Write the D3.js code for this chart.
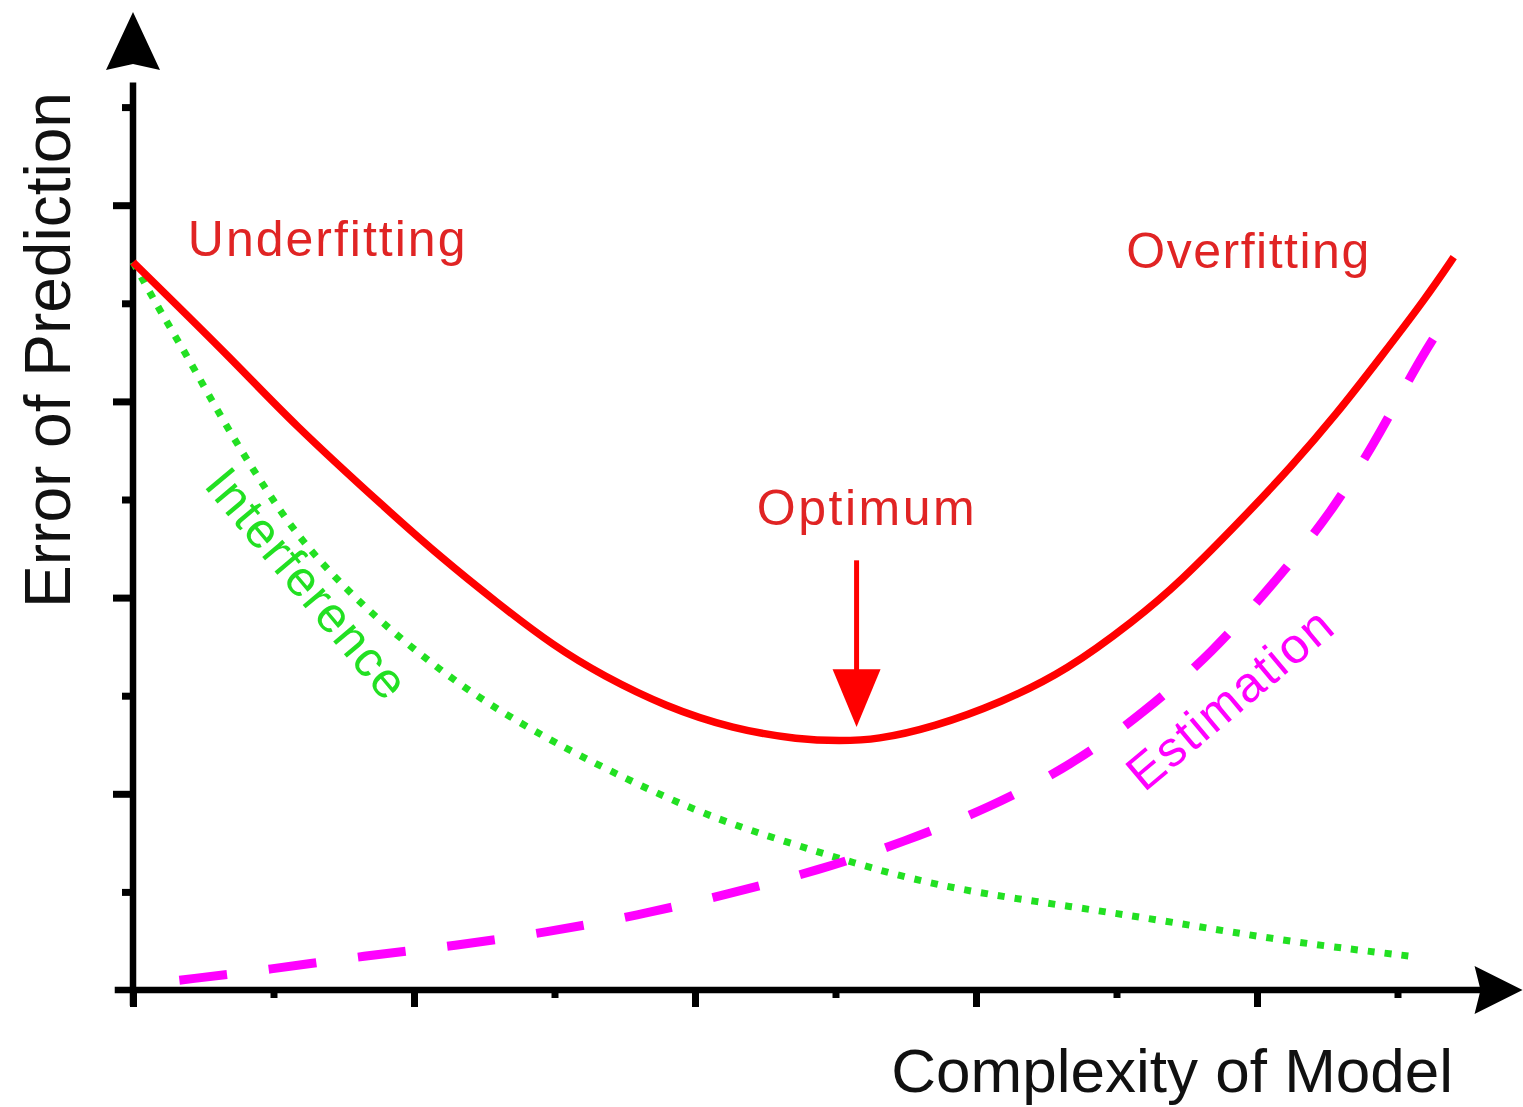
<!DOCTYPE html>
<html>
<head>
<meta charset="utf-8">
<script src="https://cdn.jsdelivr.net/npm/d3@7"></script>
<style>
  body { margin: 0; background: #fff; }
  text { font-family: "Liberation Sans", Arial, sans-serif; }
</style>
</head>
<body>
<div id="wrapper"></div>
<script>
// complexity of model (x) and error values
const totalX = [0, 0.74, 1.12, 1.82, 2.20, 2.58, 3.00, 3.35, 3.79, 4.27, 4.75, 5.03, 5.29, 5.70, 6.18, 6.65, 7.13, 7.44, 7.92, 8.24, 8.56, 8.88, 9.20, 9.40]
const totalY = [7.42, 6.38, 5.80, 4.88, 4.40, 3.96, 3.50, 3.20, 2.89, 2.66, 2.55, 2.54, 2.55, 2.68, 2.93, 3.26, 3.77, 4.14, 4.84, 5.33, 5.86, 6.45, 7.05, 7.47]

const interferenceX = [0, 0.19, 0.37, 0.56, 0.76, 0.97, 1.19, 1.57, 2.01, 2.52, 3.15, 4.02, 4.67, 5.25, 5.86, 6.68, 7.41, 8.23, 9.12]
const interferenceY = [7.42, 6.93, 6.50, 6.01, 5.52, 5.05, 4.59, 4.00, 3.45, 2.91, 2.40, 1.80, 1.50, 1.24, 1.02, 0.85, 0.69, 0.49, 0.34]

const estimationX = [0.33, 0.98, 1.65, 2.29, 2.95, 3.59, 4.22, 4.88, 5.49, 6.10, 6.68, 7.20, 7.69, 8.11, 8.53, 8.88, 9.18, 9.40]
const estimationY = [0.10, 0.21, 0.35, 0.45, 0.59, 0.76, 0.97, 1.22, 1.51, 1.86, 2.29, 2.83, 3.45, 4.13, 4.86, 5.68, 6.49, 6.95]

const majorTicks = [2, 4, 6, 8]
const minorTicks = [1, 3, 5, 7, 9]

const labels = ["Underfitting", "Overfitting", "Optimum", "Interference", "Estimation"]
const axisTitles = ["Complexity of Model", "Error of Prediction"]

const width = 1523
const height = 1107

const svg = d3.select("#wrapper")
  .append("svg")
    .attr("width", width)
    .attr("height", height)

const x = d3.scaleLinear().domain([0, 10]).range([133, 1538])
const y = d3.scaleLinear().domain([0, 10]).range([990, 9])

const red = "#ff0000"
const textRed = "#e02424"
const green = "#22e022"
const magenta = "#ff00ff"

// axes
const axes = svg.append("g")

// y ticks
axes.append("g")
    .attr("transform", `translate(${x(0)},0)`)
    .call(d3.axisLeft(y).tickValues(majorTicks).tickSize(20).tickFormat(""))
    .call(g => g.select(".domain").remove())
axes.append("g")
    .attr("transform", `translate(${x(0)},0)`)
    .call(d3.axisLeft(y).tickValues(minorTicks).tickSize(11).tickFormat(""))
    .call(g => g.select(".domain").remove())
// x ticks
axes.append("g")
    .attr("transform", `translate(0,${y(0)})`)
    .call(d3.axisBottom(x).tickValues([0].concat(majorTicks)).tickSize(17).tickFormat(""))
    .call(g => g.select(".domain").remove())
axes.append("g")
    .attr("transform", `translate(0,${y(0)})`)
    .call(d3.axisBottom(x).tickValues(minorTicks).tickSize(8).tickFormat(""))
    .call(g => g.select(".domain").remove())

axes.selectAll(".tick line")
    .attr("stroke", "#000")
    .attr("stroke-width", 7)

// axis lines
axes.append("line")
    .attr("x1", x(-0.13)).attr("x2", x(9.82))
    .attr("y1", y(0)).attr("y2", y(0))
    .attr("stroke", "#000").attr("stroke-width", 6.5)
axes.append("line")
    .attr("x1", x(0)).attr("x2", x(0))
    .attr("y1", y(-0.16)).attr("y2", y(9.25))
    .attr("stroke", "#000").attr("stroke-width", 6.5)

// arrow heads
const xTip = x(9.89), yTip = y(9.97)
axes.append("path")
    .attr("d", `M${xTip},${y(0)} L${xTip - 48},${y(0) - 24} L${xTip - 42},${y(0)} L${xTip - 48},${y(0) + 24} Z`)
    .attr("fill", "#000")
axes.append("path")
    .attr("d", `M${x(0)},${yTip} L${x(0) - 27},${yTip + 58} L${x(0)},${yTip + 52} L${x(0) + 27},${yTip + 58} Z`)
    .attr("fill", "#000")

// curves
const line = d3.line()
  .x(d => x(d[0]))
  .y(d => y(d[1]))
  .curve(d3.curveBasis)

svg.append("path")
    .datum(d3.zip(interferenceX, interferenceY))
    .attr("d", line)
    .attr("fill", "none")
    .attr("stroke", green)
    .attr("stroke-width", 7)
    .attr("stroke-dasharray", "7,10")

svg.append("path")
    .datum(d3.zip(estimationX, estimationY))
    .attr("d", line)
    .attr("fill", "none")
    .attr("stroke", magenta)
    .attr("stroke-width", 9)
    .attr("stroke-dasharray", "48,42")

svg.append("path")
    .datum(d3.zip(totalX, totalY))
    .attr("d", line)
    .attr("fill", "none")
    .attr("stroke", red)
    .attr("stroke-width", 7.5)

// optimum arrow
const ax = x(5.15)
svg.append("line")
    .attr("x1", ax).attr("x2", ax)
    .attr("y1", y(4.38)).attr("y2", y(3.25))
    .attr("stroke", red).attr("stroke-width", 5)
svg.append("path")
    .attr("d", `M${ax - 24},${y(3.27)} L${ax + 24},${y(3.27)} L${ax},${y(2.68)} Z`)
    .attr("fill", red)

// labels
const labelFont = 50
svg.append("text")
    .attr("x", x(0.39)).attr("y", y(7.48))
    .attr("font-size", labelFont).attr("letter-spacing", 2)
    .attr("fill", textRed)
    .text(labels[0])
svg.append("text")
    .attr("x", x(7.07)).attr("y", y(7.36))
    .attr("font-size", labelFont).attr("letter-spacing", 1.5)
    .attr("fill", textRed)
    .text(labels[1])
svg.append("text")
    .attr("x", x(4.44)).attr("y", y(4.74))
    .attr("font-size", labelFont).attr("letter-spacing", 2.5)
    .attr("fill", textRed)
    .text(labels[2])
svg.append("text")
    .attr("transform", `translate(${x(1.24)},${y(4.14)}) rotate(50)`)
    .attr("text-anchor", "middle")
    .attr("dominant-baseline", "central")
    .attr("font-size", labelFont).attr("letter-spacing", 1.5)
    .attr("fill", green)
    .text(labels[3])
svg.append("text")
    .attr("transform", `translate(${x(7.81)},${y(2.97)}) rotate(-40)`)
    .attr("text-anchor", "middle")
    .attr("dominant-baseline", "central")
    .attr("font-size", labelFont).attr("letter-spacing", 2)
    .attr("fill", magenta)
    .text(labels[4])

// axis titles
svg.append("text")
    .attr("x", 1453).attr("y", 1092)
    .attr("text-anchor", "end")
    .attr("font-size", 62)
    .attr("fill", "#111")
    .text(axisTitles[0])
svg.append("text")
    .attr("transform", "translate(70,350) rotate(-90)")
    .attr("text-anchor", "middle")
    .attr("font-size", 64)
    .attr("fill", "#111")
    .text(axisTitles[1])
</script>
</body>
</html>
